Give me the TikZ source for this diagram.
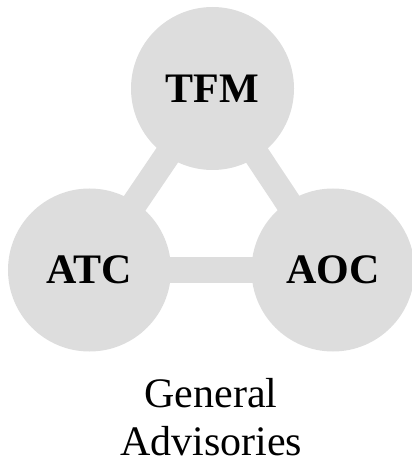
\documentclass[tikz,border=0pt]{standalone}
\usepackage{fontspec}
\setmainfont{Liberation Serif}
\definecolor{hubgray}{RGB}{221,221,221}
\begin{document}
\begin{tikzpicture}[x=1bp,y=-1bp,
  hub/.style={circle,fill=hubgray,minimum size=163bp,inner sep=0pt,font=\fontsize{42bp}{48bp}\selectfont\bfseries},
  link/.style={draw=hubgray,line width=26bp},
  caption/.style={align=center,inner sep=0pt,font=\fontsize{42bp}{48bp}\selectfont}]
\useasboundingbox (0,0) rectangle (411,462);
\coordinate (ct) at (212.5,88.5);
\coordinate (cl) at (89.5,270);
\coordinate (cr) at (333,270);
\draw[link] (ct) -- (cl);
\draw[link] (ct) -- (cr);
\draw[link] (cl) -- (cr);
\node[hub] (tfm) at (ct) {TFM};
\node[hub] (atc) at (cl) {ATC};
\node[hub] (aoc) at (cr) {AOC};
\node[caption,anchor=base] (cap) at (211,455) {General\\Advisories};
\end{tikzpicture}
\end{document}
